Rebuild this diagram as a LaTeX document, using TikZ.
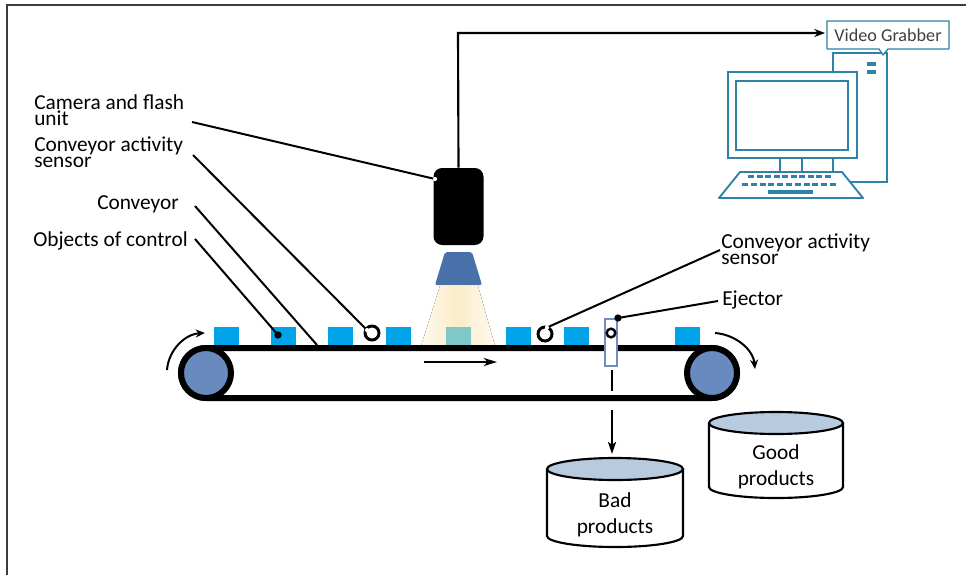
\documentclass[tikz,border=0pt]{standalone}
\usepackage{fontspec}
\setmainfont{Carlito}
\usetikzlibrary{arrows.meta}
\definecolor{boxblue}{RGB}{0,162,232}
\definecolor{roller}{RGB}{104,138,190}
\definecolor{lens}{RGB}{72,113,170}
\definecolor{pcblue}{RGB}{46,130,165}
\definecolor{binfill}{RGB}{183,202,222}
\definecolor{ejector}{RGB}{112,142,192}
\definecolor{glow}{RGB}{252,236,200}
\definecolor{lit}{RGB}{128,200,200}
\definecolor{frame}{RGB}{60,60,60}
\definecolor{vgtext}{RGB}{64,64,64}
\tikzset{
  lbl/.style={font=\fontsize{16}{12}\selectfont,
    inner sep=0pt, anchor=base west, align=left},
  bintext/.style={font=\fontsize{16}{19.5}\selectfont,
    inner sep=0pt, anchor=base, align=center},
  obj/.style={fill=boxblue, minimum width=18.75pt, minimum height=13pt, inner sep=0pt},
  sensor/.style={circle, draw=black, fill=white, line width=2.2pt, minimum size=10.5pt, inner sep=0pt},
  leader/.style={line width=1.5pt},
  wdot/.style={circle, fill=white, minimum size=3pt, inner sep=0pt},
  bdot/.style={circle, fill=black, minimum size=5.5pt, inner sep=0pt},
  belt/.style={line width=4.5pt},
  turn/.style={line width=1.5pt, -{Stealth[length=7pt,width=6pt]}},
  pc/.style={draw=pcblue, line width=1.4pt, fill=white},
  bin/.style={line width=1.6pt},
}
\begin{document}
\begin{tikzpicture}[x=0.75pt,y=-0.75pt]
\useasboundingbox (0,0) rectangle (966,575);
% outer frame
\draw[frame, line width=1.6pt] (7,575) -- (7,5) -- (966,5);

% light from the flash unit
\fill[left color=glow!30, right color=glow!30, middle color=glow]
  (440,286) -- (478,286) -- (495,346) -- (421,346) -- cycle;

% conveyor belt and rollers
\draw[belt, fill=white, rounded corners=18.75pt] (181,348) rectangle (737,398);
\draw[belt, fill=roller] (206,373) circle[radius=25];
\draw[belt, fill=roller] (712,373) circle[radius=25];

% objects of control
\node[obj] (o1) at (226,336) {};
\node[obj] (o2) at (283,336) {};
\node[obj] (o3) at (340,336) {};
\node[obj] (o4) at (398,336) {};
\node[obj, fill=lit] (o5) at (458,336) {};
\node[obj] (o6) at (518,336) {};
\node[obj] (o7) at (576,336) {};
\node[obj] (o8) at (687,336) {};

% activity sensors
\node[sensor] (s1) at (372,333) {};
\node[sensor] (s2) at (545,334) {};

% ejector
\draw[ejector, line width=1.5pt, fill=white] (605,319) rectangle (617,366);
\node[sensor, line width=1.8pt, minimum size=6.5pt] (ej) at (611,333) {};
\coordinate (ejdown) at (612,370);
\coordinate (ejdownend) at (612,391);
\draw[line width=1.6pt] (ejdown) -- (ejdownend);

% direction of travel and roller rotation
\coordinate (dirA) at (424,362);
\coordinate (dirB) at (497,362);
\draw[line width=1.5pt, -{Stealth[length=10pt,width=6pt,inset=3pt]}] (dirA) -- (dirB);
\coordinate (rlA) at (167,370);
\coordinate (rlB) at (205,333);
\draw[turn] (rlA) .. controls (168.5,350) and (185,334) .. (rlB);
\coordinate (rrA) at (715,333);
\coordinate (rrB) at (755,369);
\draw[turn] (rrA) .. controls (735,334.5) and (753,349) .. (rrB);

% camera, lens and cable
\node[fill=black, rounded corners=6.5pt, minimum width=37.5pt, minimum height=57.75pt, inner sep=0pt]
  (cam) at (458.5,206.5) {};
\fill[lens, rounded corners=1.5pt] (445,252) -- (472,252) -- (482,285) -- (435,285) -- cycle;
\coordinate (bend) at (458,33);

% computer
\draw[pc] (833,53) rectangle (887,182);
\fill[pcblue] (867,62) rectangle (876,66);
\fill[pcblue] (867,70) rectangle (876,74);
\draw[pc] (728,72) rectangle (857,158);
\draw[pc] (736,81) rectangle (848,150);
\draw[pcblue, line width=1.4pt] (780,158) -- (780,172) (802,158) -- (802,172);
\draw[pc, line join=round] (740,172) -- (842,172) -- (863,198) -- (719,198) -- cycle;
\foreach \i in {0,...,9} \fill[pcblue] (748+8.5*\i,175) rectangle ++(6,3);
\foreach \i in {0,...,10} \fill[pcblue] (742+8.8*\i,183) rectangle ++(6,3);
\fill[pcblue] (768,190) rectangle (813,194);

% video grabber callout
\draw[pc, line width=1pt, line join=round] (827,21) -- (949,21) -- (949,49) -- (888,49)
  -- (883,55) -- (879,49) -- (827,49) -- cycle;
\node[font=\fontsize{13.6}{15}\selectfont, text=vgtext, inner sep=0pt] (vg) at (888,35) {Video Grabber};
\draw[line width=1.6pt, -{Stealth[length=8pt,width=6pt]}] (cam.north) -- (bend) -- (825,33);

% bins
\fill[white] (547,469) rectangle (683,536);
\draw[bin] (547,469) -- (547,536) arc[start angle=180, end angle=0, x radius=68, y radius=11] -- (683,469);
\draw[bin, fill=binfill] (615,469) ellipse[x radius=68, y radius=11];
\node[bintext] (bad) at (615,533) {Bad\\products};

\draw[bin] (709,423) -- (709,487) arc[start angle=180, end angle=0, x radius=67, y radius=11] -- (843,423);
\draw[bin, fill=binfill] (776,423) ellipse[x radius=67, y radius=11];
\node[bintext] (good) at (776,485) {Good\\products};

\coordinate (rejA) at (612,410);
\draw[line width=1.6pt, -{Stealth[length=9pt,width=6pt,inset=2pt]}] (rejA) -- (612,454);

% labels (multi-line nodes are placed by their last baseline)
\node[lbl] (lcam) at (34,125) {Camera and flash\\unit};
\node[lbl] (lsen) at (34,167) {Conveyor activity\\sensor};
\node[lbl] (lconv) at (97,209) {Conveyor};
\node[lbl] (lobj) at (33,246) {Objects of control};
\node[lbl] (rsen) at (721,264) {Conveyor activity\\sensor};
\node[lbl] (rej) at (722,305) {Ejector};

% leader lines
\coordinate (lcamA) at (192,122);
\coordinate (lsenA) at (193,155);
\coordinate (lconvA) at (195,206);
\coordinate (lobjA) at (195,239);
\coordinate (rsenA) at (720,250);
\coordinate (rejA2) at (718,301);
\node[wdot] (camdot) at (435,179) {};
\node[wdot] (s1dot) at (367,330) {};
\node[wdot] (s2dot) at (547,327.5) {};
\node[bdot] (objdot) at (278,335) {};
\node[bdot] (ejdot) at (618,318) {};
\coordinate (beltpt) at (317,345);
\draw[leader] (lcamA) -- (camdot.center);
\draw[leader] (lsenA) -- (s1dot.center);
\draw[leader] (lconvA) -- (beltpt);
\draw[leader] (lobjA) -- (objdot.center);
\draw[leader] (rsenA) -- (s2dot.center);
\draw[leader] (rejA2) -- (ejdot.center);
\node[wdot] at (camdot) {};
\node[wdot] at (s1dot) {};
\node[wdot] at (s2dot) {};
\end{tikzpicture}
\end{document}
